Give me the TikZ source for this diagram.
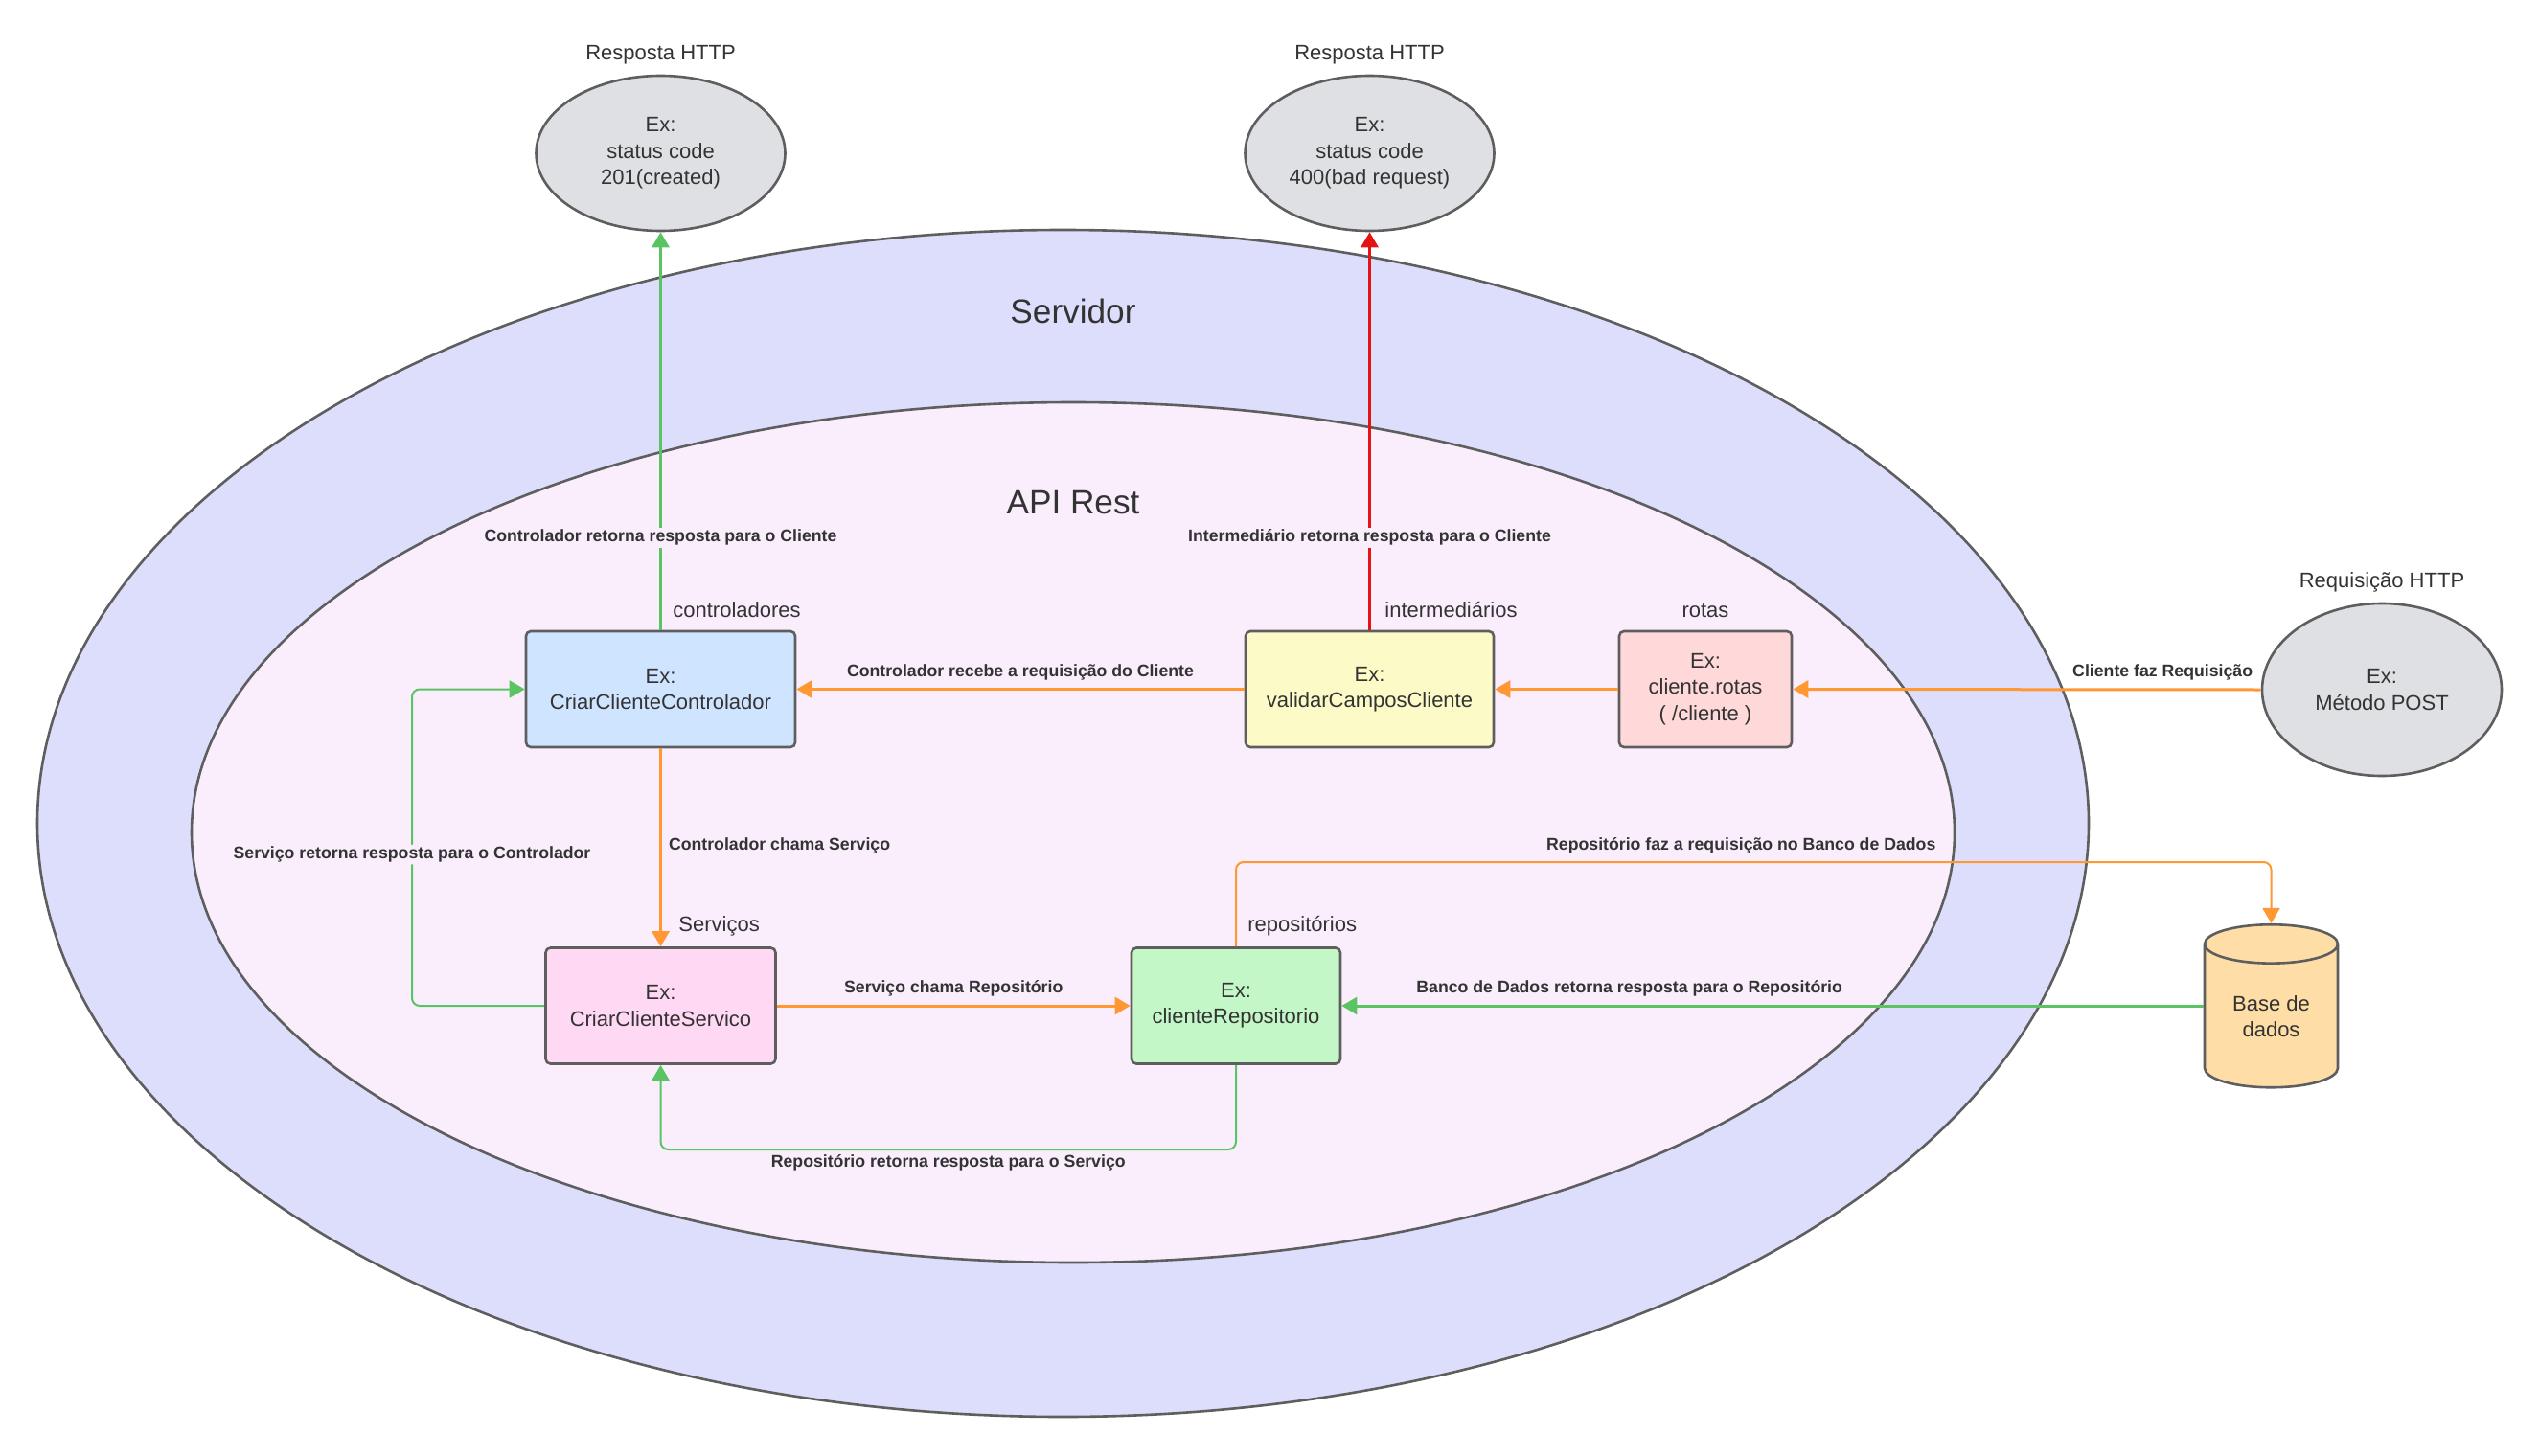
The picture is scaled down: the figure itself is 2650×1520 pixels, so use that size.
\documentclass[tikz,border=0pt]{standalone}
\usepackage{fontspec}
\setmainfont{Liberation Sans}
\usepackage{tikz}
\usetikzlibrary{arrows.meta,shapes.geometric,calc}

\definecolor{corservidor}{RGB}{221,222,252}
\definecolor{corapi}{RGB}{250,238,253}
\definecolor{corcontrol}{RGB}{207,228,255}
\definecolor{corinterm}{RGB}{252,251,200}
\definecolor{corrotas}{RGB}{255,217,218}
\definecolor{corservico}{RGB}{255,216,244}
\definecolor{correpo}{RGB}{195,247,200}
\definecolor{corbanco}{RGB}{255,221,166}
\definecolor{corhttp}{RGB}{222,224,227}
\definecolor{corborda}{RGB}{94,94,94}
\definecolor{cortexto}{RGB}{51,51,51}
\definecolor{laranja}{RGB}{255,151,51}
\definecolor{verde}{RGB}{90,196,98}
\definecolor{vermelho}{RGB}{226,20,20}

\begin{document}
\begin{tikzpicture}[x=0.5pt, y=-0.5pt, >={Triangle[length=8pt,width=9pt]},
	caixa/.style={draw=corborda, line width=1.3pt, rounded corners=2.5pt, minimum height=60.5pt, inner sep=0pt, align=center, text=cortexto, font=\fontsize{11}{13.7}\selectfont},
	http/.style={ellipse, draw=corborda, fill=corhttp, line width=1.3pt, inner sep=0pt, align=center, text=cortexto, font=\fontsize{11}{13.7}\selectfont},
	camada/.style={text=cortexto, font=\fontsize{11}{13.7}\selectfont, inner sep=0pt},
	titulo/.style={text=cortexto, font=\fontsize{17.6}{20}\selectfont, inner sep=0pt},
	rotulo/.style={text=cortexto, font=\fontsize{8.85}{10}\selectfont\bfseries, inner sep=1pt},
	seta/.style={line width=1.5pt, ->},
	laco/.style={line width=1pt, ->, rounded corners=4pt}]
	
	\useasboundingbox (0,0) rectangle (2650,1520);
	
	\draw[draw=corborda, fill=corservidor, line width=1.3pt] (1109.5,859.5) ellipse [x radius=535.25pt, y radius=309.75pt];
	\draw[draw=corborda, fill=corapi, line width=1.3pt] (1120,869) ellipse [x radius=460pt, y radius=224.5pt];
	\node[titulo] (servidor) at (1120,325) {Servidor};
	\node[titulo] (apirest) at (1120,525) {API Rest};
	
	\node[http, minimum width=130pt, minimum height=81pt] (resp1) at (689.5,160) {Ex:\\status code\\201(created)};
	\node[http, minimum width=130pt, minimum height=81pt] (resp2) at (1429.5,160) {Ex:\\status code\\400(bad request)};
	\node[http, minimum width=125pt, minimum height=90pt] (req) at (2486,720) {Ex:\\Método POST};
	\node[camada] (lblresp1) at (689.5,57) {Resposta HTTP};
	\node[camada] (lblresp2) at (1429.5,57) {Resposta HTTP};
	\node[camada] (lblreq) at (2486,608) {Requisição HTTP};
	
	\node[caixa, fill=corcontrol, minimum width=140.5pt] (ctrl) at (689.5,719.5) {Ex:\\CriarClienteControlador};
	\node[caixa, fill=corinterm, minimum width=129.5pt] (valid) at (1429.5,719.5) {Ex:\\validarCamposCliente};
	\node[caixa, fill=corrotas, minimum width=90pt] (rotas) at (1780,719.5) {Ex:\\cliente.rotas\\( /cliente )};
	\node[caixa, fill=corservico, minimum width=120pt] (serv) at (689.5,1050) {Ex:\\CriarClienteServico};
	\node[caixa, fill=correpo, minimum width=109pt] (repo) at (1290,1050) {Ex:\\clienteRepositorio};
	\node[cylinder, shape border rotate=90, aspect=0.5, draw=corborda, fill=corbanco, line width=1.3pt, minimum width=69.5pt, minimum height=85pt, inner sep=0pt, align=center, text=cortexto, font=\fontsize{11}{13.7}\selectfont] (banco) at (2370.5,1061) {Base de\\dados};
	
	\node[camada, anchor=west] (lblctrl) at (702,637) {controladores};
	\node[camada, anchor=west] (lblvalid) at (1445,637) {intermediários};
	\node[camada] (lblrotas) at (1780,637) {rotas};
	\node[camada, anchor=west] (lblserv) at (708,967) {Serviços};
	\node[camada, anchor=west] (lblrepo) at (1302,967) {repositórios};
	
	\coordinate (cantoA) at (1290,900);
	\coordinate (cantoB) at (1290,1200);
	\coordinate (cantoC) at (430,1050);
	
	\draw[seta, laranja] (req.west) -- node[rotulo, above=3pt, pos=0.21] (txtreq) {Cliente faz Requisição} (rotas.east);
	\draw[seta, laranja] (rotas.west) -- (valid.east);
	\draw[seta, laranja] (valid.west) -- node[rotulo, above=3pt, pos=0.5] (txtvalid) {Controlador recebe a requisição do Cliente} (ctrl.east);
	\draw[seta, laranja] (ctrl.south) -- node[rotulo, right=2.5pt, pos=0.49] (txtctrl) {Controlador chama Serviço} (serv.north);
	\draw[seta, laranja] (serv.east) -- node[rotulo, above=3pt, pos=0.5] (txtserv) {Serviço chama Repositório} (repo.west);
	\draw[laco, laranja] (repo.north) -- (cantoA) -| node[rotulo, above=3pt, pos=0.244] (txtrepo) {Repositório faz a requisição no Banco de Dados} (banco.north);
	\draw[seta, verde] (banco.west |- repo.east) -- node[rotulo, above=3pt, pos=0.666] (txtbanco) {Banco de Dados retorna resposta para o Repositório} (repo.east);
	\draw[laco, verde] (repo.south) -- (cantoB) -| node[rotulo, below=1.3pt, pos=0.25] (txtvolta) {Repositório retorna resposta para o Serviço} (serv.south);
	\draw[laco, verde] (serv.west) -- (cantoC) |- node[rotulo, fill=corapi, pos=0.239] (txtservctrl) {Serviço retorna resposta para o Controlador} (ctrl.west);
	\draw[seta, verde] (ctrl.north) -- node[rotulo, fill=corapi, pos=0.232] (txtresp1) {Controlador retorna resposta para o Cliente} (resp1.south);
	\draw[seta, vermelho] (valid.north) -- node[rotulo, fill=corapi, pos=0.232] (txtresp2) {Intermediário retorna resposta para o Cliente} (resp2.south);
	
\end{tikzpicture}
\end{document}
